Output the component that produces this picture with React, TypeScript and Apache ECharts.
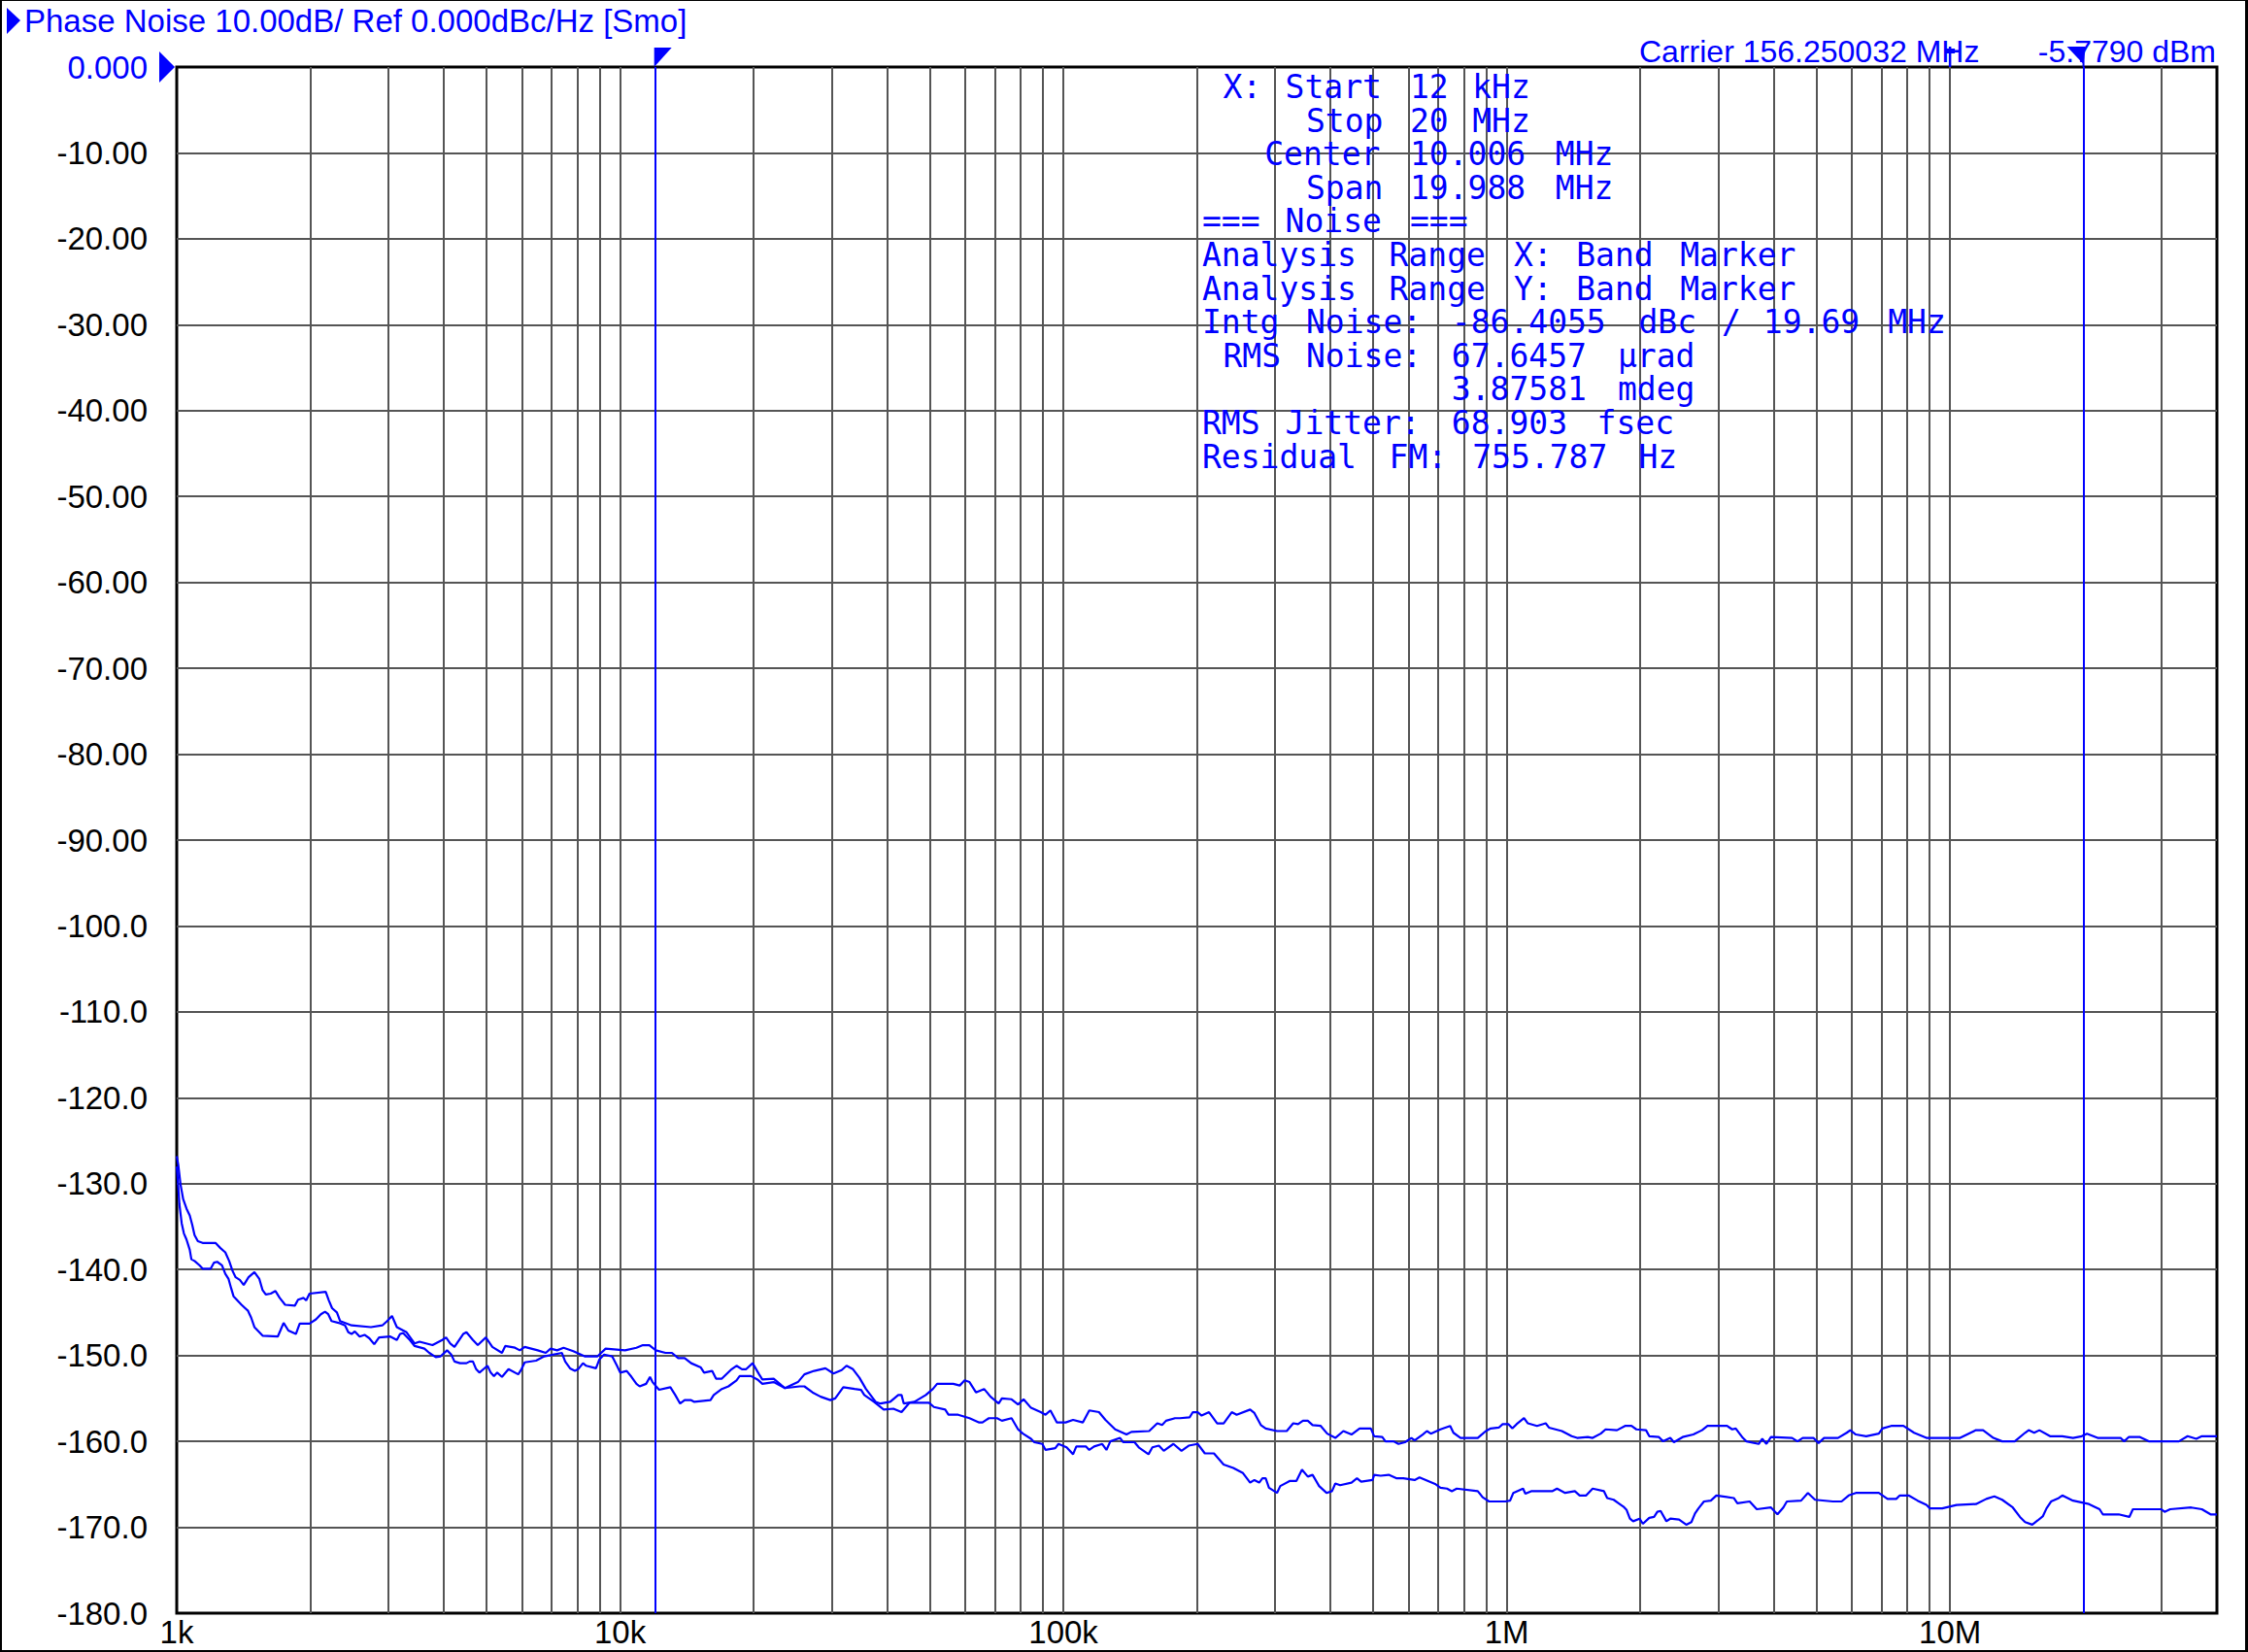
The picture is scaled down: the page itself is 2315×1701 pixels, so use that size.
import React, { useEffect, useRef } from "react";
import * as echarts from "echarts";

// ---------- text content ----------
const TITLE = "Phase Noise 10.00dB/ Ref 0.000dBc/Hz [Smo]";
const CARRIER = "Carrier 156.250032 MHz";
const CARRIER_POWER = "-5.7790 dBm";

// monospaced analysis block, leading spaces give the column layout
const INFO_LINES: string[] = [
  " X: Start 12 kHz",
  "     Stop 20 MHz",
  "   Center 10.006 MHz",
  "     Span 19.988 MHz",
  "=== Noise ===",
  "Analysis Range X: Band Marker",
  "Analysis Range Y: Band Marker",
  "Intg Noise: -86.4055 dBc / 19.69 MHz",
  " RMS Noise: 67.6457 \u00b5rad",
  "            3.87581 mdeg",
  "RMS Jitter: 68.903 fsec",
  "Residual FM: 755.787 Hz",
];

// ---------- axes ----------
const X_MIN = 1000;
const X_MAX = 40000000;
const Y_MIN = -180;
const Y_MAX = 0;
const Y_STEP = 10;
const X_TICK_LABELS: Record<number, string> = { 3: "1k", 4: "10k", 5: "100k", 6: "1M", 7: "10M" };
const DECADES = [1000, 10000, 100000, 1000000, 10000000];
const MULTIPLIERS = [1, 2, 3, 4, 5, 6, 7, 8, 9];
const MARKER_FREQS = [12000, 20000000]; // band markers
const SMALL_MARKER_FREQ = 10000000;

// ---------- traces: [frequency Hz, dBc/Hz] ----------
const upperTrace: [number, number][] = [
  [1000, -126.8], [1008, -127.8], [1020, -130.1], [1034, -131.8], [1052, -132.9], [1070, -133.7], [1084, -134.8], [1097, -136.0],
  [1116, -136.7], [1144, -136.9], [1223, -136.9], [1255, -137.5], [1287, -138.0], [1313, -139.0], [1335, -140.1], [1358, -140.9],
  [1388, -141.2], [1416, -141.8], [1452, -140.9], [1497, -140.3], [1536, -141.1], [1562, -142.4], [1588, -142.9], [1629, -142.8],
  [1670, -142.5], [1707, -143.3], [1756, -144.1], [1847, -144.2], [1878, -143.5], [1933, -143.3], [1959, -143.6], [1993, -142.8],
  [2168, -142.6], [2204, -143.6], [2241, -144.5], [2298, -145.0], [2337, -146.0], [2480, -146.5], [2742, -146.7], [2909, -146.5],
  [2983, -146.0], [3059, -145.4], [3137, -146.7], [3299, -147.3], [3441, -148.6], [3529, -148.4], [3775, -148.8], [3971, -148.2],
  [4051, -147.9], [4140, -148.6], [4232, -149.0], [4428, -147.5], [4503, -147.3], [4657, -148.2], [4776, -148.8], [4981, -147.9],
  [5151, -149.0], [5416, -149.7], [5508, -148.9], [5795, -149.1], [5943, -149.4], [6095, -149.0], [6520, -149.4], [6799, -149.7],
  [6973, -149.2], [7211, -149.4], [7458, -149.1], [7844, -149.5], [8318, -150.1], [8897, -150.1], [9279, -149.2], [10264, -149.4],
  [10887, -149.1], [11258, -148.8], [11643, -148.8], [12041, -149.4], [12662, -149.7], [13094, -149.7], [13523, -150.3],
  [13986, -150.3], [14465, -150.9], [15213, -151.4], [15471, -152.0], [16131, -151.8], [16461, -152.7], [16966, -152.7],
  [17852, -151.6], [18307, -151.2], [18835, -151.6], [19251, -151.6], [19910, -150.9], [20591, -152.2], [20940, -152.8],
  [22210, -152.7], [23162, -153.5], [23555, -153.8], [25190, -153.1], [26050, -152.2], [27394, -151.8], [29059, -151.5],
  [30302, -152.1], [31608, -151.7], [32418, -151.2], [33527, -151.6], [34674, -152.6], [35860, -153.9], [37712, -155.4],
  [38674, -155.6], [40676, -155.4], [42424, -154.6], [43144, -154.6], [43652, -155.6], [46140, -155.4], [48941, -154.6],
  [50780, -153.9], [51900, -153.3], [56450, -153.3], [58380, -153.5], [59880, -152.9], [61410, -153.1], [63510, -154.3],
  [66240, -153.9], [68510, -154.8], [71450, -155.6], [72660, -155.0], [76410, -155.1], [79030, -155.7], [81320, -155.1],
  [84530, -156.1], [88900, -156.6], [91160, -156.9], [93490, -156.4], [96690, -157.8], [101180, -157.8], [105170, -157.5],
  [110620, -157.8], [114400, -156.4], [120310, -156.6], [124420, -157.5], [130860, -158.6], [138800, -159.2], [142330, -158.9],
  [156150, -158.8], [162860, -157.9], [167010, -158.1], [170430, -157.6], [178640, -157.3], [183190, -157.3], [192640, -157.2],
  [195900, -156.6], [200900, -156.6], [205000, -157.0], [213100, -156.6], [222300, -157.9], [229900, -157.9], [239800, -156.6],
  [245900, -156.9], [263800, -156.3], [269700, -156.7], [278900, -158.1], [286000, -158.5], [303300, -158.8], [319000, -158.8],
  [330000, -157.9], [338400, -158.0], [347000, -157.6], [355900, -157.6], [364900, -158.1], [380600, -158.2], [393600, -159.1],
  [410600, -159.6], [428100, -158.8], [446600, -159.2], [465700, -158.5], [493900, -158.5], [502300, -159.4], [524000, -159.5],
  [532800, -160.0], [555700, -160.0], [570000, -160.3], [589500, -160.1], [609600, -159.6], [619900, -159.9], [646500, -159.2],
  [660700, -158.8], [674300, -159.1], [708900, -158.6], [745600, -158.2], [758300, -159.0], [787000, -159.6], [860500, -159.6],
  [897400, -158.8], [920300, -158.5], [959700, -158.4], [979300, -158.0], [1009300, -158.0], [1029900, -158.5], [1052600, -158.0],
  [1094200, -157.3], [1116400, -157.9], [1170300, -158.2], [1224600, -157.9], [1245400, -158.4], [1332000, -158.8],
  [1401000, -159.4], [1441700, -159.6], [1523900, -159.5], [1562800, -159.6], [1629800, -159.1], [1671500, -158.6],
  [1773000, -158.7], [1849000, -158.2], [1912000, -158.2], [1961000, -158.6], [2062000, -158.7], [2097000, -159.4],
  [2205000, -159.5], [2254000, -160.0], [2339000, -159.6], [2383000, -160.1], [2494000, -159.5], [2636000, -159.2],
  [2758000, -158.7], [2838000, -158.2], [3141000, -158.2], [3226000, -158.6], [3286000, -158.5], [3410000, -159.6],
  [3473000, -160.0], [3702000, -160.3], [3771000, -159.7], [3854000, -160.3], [3946000, -159.5], [4402000, -159.6],
  [4529000, -160.0], [4653000, -159.6], [4918000, -159.6], [5052000, -160.2], [5198000, -159.6], [5588000, -159.6],
  [5848000, -159.0], [5958000, -158.7], [6131000, -159.2], [6470000, -159.4], [6908000, -159.1], [7037000, -158.5],
  [7365000, -158.2], [7851000, -158.2], [8297000, -159.0], [8847000, -159.6], [9524000, -159.6], [10535000, -159.6],
  [11442000, -158.7], [11873000, -158.7], [12527000, -159.6], [13111000, -160.0], [13996000, -160.0], [14770000, -159.0],
  [15046000, -158.7], [15481000, -159.0], [15904000, -158.7], [16812000, -159.4], [17918000, -159.4], [18944000, -159.6],
  [19826000, -159.4], [20367000, -159.1], [21526000, -159.6], [24248000, -159.6], [24704000, -160.0], [25293000, -159.5],
  [26826000, -159.5], [28070000, -160.0], [32830000, -160.0], [34350000, -159.4], [35940000, -159.7], [36990000, -159.4],
  [40000000, -159.4],
];

const lowerTrace: [number, number][] = [
  [1000, -128.0], [1005, -129.4], [1014, -132.4], [1026, -134.6], [1038, -135.8], [1052, -136.5], [1070, -137.7], [1079, -138.8],
  [1097, -139.0], [1125, -139.5], [1144, -139.9], [1193, -139.9], [1213, -139.2], [1234, -139.1], [1265, -139.5], [1287, -140.5],
  [1309, -141.1], [1327, -142.2], [1343, -143.1], [1400, -144.1], [1448, -144.8], [1472, -145.6], [1497, -146.7], [1562, -147.7],
  [1690, -147.8], [1713, -147.1], [1742, -146.2], [1786, -147.1], [1857, -147.5], [1894, -146.3], [1993, -146.3], [2061, -145.8],
  [2114, -145.2], [2160, -144.9], [2197, -145.2], [2234, -146.0], [2318, -146.2], [2397, -146.5], [2438, -147.3], [2480, -147.5],
  [2522, -147.2], [2586, -147.8], [2652, -147.6], [2720, -148.0], [2789, -148.7], [2860, -147.9], [3033, -147.8], [3137, -148.2],
  [3190, -147.5], [3244, -147.4], [3356, -148.2], [3441, -148.9], [3620, -149.2], [3712, -149.7], [3839, -150.2], [3937, -150.1],
  [4072, -149.4], [4162, -149.9], [4232, -150.7], [4355, -150.9], [4503, -150.9], [4579, -150.7], [4657, -150.7], [4736, -151.6],
  [4816, -152.0], [5023, -151.2], [5108, -152.0], [5195, -152.4], [5283, -152.0], [5416, -152.5], [5603, -151.6], [5893, -152.2],
  [5993, -151.6], [6095, -150.8], [6465, -150.6], [6744, -150.1], [7395, -149.7], [7520, -150.7], [7712, -151.5], [7909, -151.8],
  [8043, -151.6], [8249, -150.9], [8389, -151.2], [8825, -151.5], [8975, -150.5], [9204, -149.9], [9597, -150.1], [9842, -151.2],
  [10009, -152.0], [10351, -151.8], [10615, -152.5], [10887, -153.3], [11072, -153.6], [11450, -153.3], [11682, -152.5],
  [11838, -153.1], [12245, -154.0], [12987, -153.7], [13320, -154.6], [13660, -155.6], [13986, -155.2], [14465, -155.2],
  [14710, -155.4], [15997, -155.2], [16268, -154.6], [16966, -153.9], [17556, -153.6], [18307, -152.9], [18613, -152.4],
  [19744, -152.4], [20418, -152.8], [20940, -153.3], [22210, -153.1], [23555, -153.8], [25400, -153.6], [26050, -153.6],
  [27170, -154.3], [28340, -154.8], [29810, -155.2], [30570, -155.0], [31880, -153.7], [33810, -153.9], [34970, -154.0],
  [35560, -154.6], [37390, -155.4], [39330, -156.3], [41360, -156.2], [43144, -156.6], [44990, -155.5], [49770, -155.5],
  [51040, -156.0], [54130, -156.3], [55050, -156.9], [57900, -156.9], [61410, -157.3], [64590, -157.8], [65690, -157.8],
  [67920, -157.3], [70850, -157.3], [72660, -157.6], [76410, -157.3], [79030, -158.6], [81040, -159.1], [84530, -159.7],
  [85970, -160.1], [89650, -160.3], [91160, -161.0], [95880, -160.8], [97500, -160.3], [101690, -160.7], [105170, -161.5],
  [106950, -160.6], [112500, -160.6], [114400, -161.0], [117320, -160.6], [122370, -160.3], [125070, -161.0], [127630, -160.0],
  [134220, -159.6], [136500, -160.1], [144730, -160.1], [147930, -160.7], [155600, -161.5], [158770, -160.7], [164200, -160.5],
  [168400, -161.1], [177100, -160.3], [184700, -161.1], [191700, -160.5], [200900, -160.3], [208500, -161.4], [218600, -161.4],
  [229900, -162.7], [241700, -163.1], [254200, -163.7], [263800, -164.8], [269700, -164.5], [276500, -164.8], [281200, -164.3],
  [286000, -164.3], [290900, -165.4], [303300, -166.0], [308500, -165.2], [324500, -164.6], [335600, -164.6], [345300, -163.3],
  [355900, -164.1], [364900, -163.9], [377400, -165.2], [392300, -166.0], [403600, -165.8], [410600, -164.9], [421000, -165.1],
  [446600, -164.8], [459500, -164.3], [469600, -164.7], [498200, -164.5], [502300, -163.9], [519600, -164.0], [541900, -163.9],
  [565000, -164.3], [584500, -164.3], [619900, -164.5], [635800, -164.2], [663100, -164.6], [691600, -165.0], [708900, -165.4],
  [733400, -165.5], [752100, -165.8], [771300, -165.5], [860500, -165.8], [882400, -166.5], [912500, -167.0], [992500, -167.0],
  [1017900, -166.9], [1035100, -166.0], [1088800, -165.5], [1101700, -166.1], [1135400, -165.8], [1266400, -165.8],
  [1298700, -165.5], [1354600, -166.0], [1424500, -165.8], [1460900, -166.3], [1510900, -166.3], [1562800, -165.5],
  [1657400, -165.8], [1685500, -166.6], [1743100, -166.8], [1787800, -167.2], [1833500, -167.6], [1864600, -168.0],
  [1896200, -169.0], [1928400, -169.3], [1994700, -169.0], [2028500, -169.6], [2097000, -168.9], [2150000, -168.8],
  [2187000, -168.2], [2224000, -168.1], [2292000, -169.3], [2339000, -169.0], [2448000, -169.1], [2541000, -169.7],
  [2610000, -169.4], [2659000, -168.4], [2708000, -167.8], [2786000, -167.0], [2887000, -166.9], [2971000, -166.3],
  [3253000, -166.6], [3314000, -167.2], [3532000, -167.0], [3665000, -167.9], [3946000, -167.7], [4081000, -168.5],
  [4207000, -167.7], [4285000, -167.0], [4614000, -166.9], [4780000, -166.0], [4961000, -166.8], [5442000, -167.0],
  [5693000, -167.0], [5908000, -166.3], [6131000, -166.0], [6908000, -166.0], [7228000, -166.7], [7563000, -166.7],
  [7705000, -166.3], [8063000, -166.3], [8452000, -166.9], [8847000, -167.4], [9010000, -167.8], [9605000, -167.8],
  [10342000, -167.4], [11442000, -167.3], [12074000, -166.7], [12589000, -166.4], [13111000, -166.8], [13855000, -167.7],
  [14379000, -168.8], [14770000, -169.4], [15330000, -169.7], [15775000, -169.2], [16205000, -168.7], [16507000, -167.8],
  [16899000, -167.0], [17596000, -166.6], [17918000, -166.3], [18944000, -166.9], [20574000, -167.3], [21745000, -167.9],
  [22114000, -168.5], [24010000, -168.5], [25380000, -168.8], [25850000, -167.9], [29920000, -167.9], [30480000, -168.2],
  [31370000, -167.9], [34990000, -167.7], [36990000, -167.9], [38700000, -168.5], [40000000, -168.5],
];

// ---------- styles ----------
const BLUE = "#0000ff";
const GRID_GRAY = "#555555";
const SANS = "'Liberation Sans', Arial, sans-serif";
const MONO = "'DejaVu Sans Mono', 'Liberation Mono', monospace";
const MONO_SIZE = 33;
const MONO_COL = 21.4;
const MONO_X0 = 1238;
const MONO_Y0 = 89.5;
const MONO_ROW = 34.6;

const gridFreqs: number[] = [];
DECADES.forEach((d) =>
  MULTIPLIERS.forEach((m) => {
    const f = d * m;
    if (f > X_MIN && f < X_MAX) gridFreqs.push(f);
  })
);
gridFreqs.push(20000000, 30000000);

function xLabel(v: number): string {
  const l = Math.log10(v);
  const r = Math.round(l);
  if (Math.abs(l - r) < 1e-6 && X_TICK_LABELS[r]) return X_TICK_LABELS[r];
  return "";
}

function yLabel(v: number): string {
  if (Math.abs(v) < 1e-9) return "{z|0.000}";
  return v > -100 ? v.toFixed(2) : v.toFixed(1);
}

// split a fixed-width line into words placed at their character column
function lineTokens(line: string): { col: number; text: string }[] {
  const out: { col: number; text: string }[] = [];
  let i = 0;
  while (i < line.length) {
    if (line[i] === " ") {
      i++;
      continue;
    }
    let j = i;
    while (j < line.length && line[j] !== " ") j++;
    out.push({ col: i, text: line.slice(i, j) });
    i = j;
  }
  return out;
}

export default function App() {
  const ref = useRef<HTMLDivElement>(null);

  useEffect(() => {
    if (!ref.current) return;
    const chart = echarts.init(ref.current, null, { renderer: "svg" });
    const option: any = {
      animation: false,
      backgroundColor: "#ffffff",
      grid: {
        left: 182,
        top: 69,
        width: 2101,
        height: 1592,
        show: true,
        borderColor: "#000000",
        borderWidth: 3,
        backgroundColor: "#ffffff",
      },
      xAxis: {
        type: "log",
        logBase: 10,
        min: X_MIN,
        max: X_MAX,
        axisLine: { show: false },
        axisTick: { show: false },
        splitLine: { show: false },
        axisLabel: {
          formatter: xLabel,
          fontFamily: SANS,
          fontSize: 33,
          color: "#000000",
          margin: 3,
          showMinLabel: true,
        },
      },
      yAxis: {
        type: "value",
        min: Y_MIN,
        max: Y_MAX,
        interval: Y_STEP,
        axisLine: { show: false },
        axisTick: { show: false },
        splitLine: {
          show: true,
          showMinLine: false,
          showMaxLine: false,
          lineStyle: { color: GRID_GRAY, width: 2 },
        },
        axisLabel: {
          formatter: yLabel,
          fontFamily: SANS,
          fontSize: 33,
          color: "#000000",
          margin: 30,
          rich: { z: { color: BLUE, fontFamily: SANS, fontSize: 33 } },
        },
      },
      series: [
        {
          name: "Trace A",
          type: "line",
          data: upperTrace,
          showSymbol: false,
          symbol: "none",
          z: 10,
          lineStyle: { color: BLUE, width: 2.2 },
          silent: true,
          markLine: {
            z: 3,
            silent: true,
            symbol: ["none", "none"],
            label: { show: false },
            lineStyle: { color: GRID_GRAY, width: 2, type: "solid" },
            data: gridFreqs.map((f) => ({ xAxis: f })),
          },
        },
        {
          name: "Trace B",
          type: "line",
          data: lowerTrace,
          showSymbol: false,
          symbol: "none",
          z: 10,
          lineStyle: { color: BLUE, width: 2.2 },
          silent: true,
          markLine: {
            z: 4,
            silent: true,
            symbol: ["none", "none"],
            label: { show: false },
            lineStyle: { color: BLUE, width: 2, type: "solid" },
            data: MARKER_FREQS.map((f) => ({ xAxis: f })),
          },
        },
      ],
    };
    chart.setOption(option);

    const x12 = chart.convertToPixel({ xAxisIndex: 0 }, MARKER_FREQS[0]) as number;
    const x20 = chart.convertToPixel({ xAxisIndex: 0 }, MARKER_FREQS[1]) as number;
    const x10 = chart.convertToPixel({ xAxisIndex: 0 }, SMALL_MARKER_FREQ) as number;

    const graphic: any[] = [
      // outer frame of the screen
      { type: "rect", shape: { x: 0, y: 0, width: 2315, height: 1 }, style: { fill: "#000" }, z: 100 },
      { type: "rect", shape: { x: 0, y: 0, width: 2, height: 1701 }, style: { fill: "#000" }, z: 100 },
      { type: "rect", shape: { x: 2312, y: 0, width: 3, height: 1701 }, style: { fill: "#000" }, z: 100 },
      { type: "rect", shape: { x: 0, y: 1699, width: 2315, height: 2 }, style: { fill: "#000" }, z: 100 },
      // header
      { type: "polygon", shape: { points: [[7, 8], [7, 35], [21, 21]] }, style: { fill: BLUE }, z: 100 },
      {
        type: "text", x: 25, y: 21.5, z: 100,
        style: { text: TITLE, fill: BLUE, fontFamily: SANS, fontSize: 33, verticalAlign: "middle", align: "left" },
      },
      {
        type: "text", x: 1688, y: 53, z: 100,
        style: { text: CARRIER, fill: BLUE, fontFamily: SANS, fontSize: 32, verticalAlign: "middle", align: "left" },
      },
      {
        type: "text", x: 2282, y: 53, z: 100,
        style: { text: CARRIER_POWER, fill: BLUE, fontFamily: SANS, fontSize: 32, verticalAlign: "middle", align: "right" },
      },
      // reference level arrow
      { type: "polygon", shape: { points: [[164, 53], [164, 85], [180, 69]] }, style: { fill: BLUE }, z: 100 },
      // band marker flags
      { type: "polygon", shape: { points: [[x12 - 1, 49], [x12 + 17, 49], [x12 - 1, 69]] }, style: { fill: BLUE }, z: 100 },
      { type: "line", shape: { x1: x20, y1: 48, x2: x20, y2: 69 }, style: { stroke: BLUE, lineWidth: 2 }, z: 100 },
      { type: "polygon", shape: { points: [[x20 - 17, 48], [x20 + 2, 48], [x20, 66]] }, style: { fill: BLUE }, z: 100 },
      { type: "line", shape: { x1: x10, y1: 48, x2: x10, y2: 69 }, style: { stroke: BLUE, lineWidth: 2.5 }, z: 100 },
      { type: "rect", shape: { x: x10 - 5, y: 50, width: 10, height: 5 }, style: { fill: BLUE }, z: 100 },
    ];

    INFO_LINES.forEach((line, row) => {
      lineTokens(line).forEach(({ col, text }) => {
        graphic.push({
          type: "text",
          x: MONO_X0 + col * MONO_COL,
          y: MONO_Y0 + row * MONO_ROW,
          z: 100,
          style: { text, fill: BLUE, fontFamily: MONO, fontSize: MONO_SIZE, verticalAlign: "middle", align: "left" },
        });
      });
    });

    chart.setOption({ graphic });

    return () => chart.dispose();
  }, []);

  return (
    <div
      ref={ref}
      style={{ position: "absolute", left: 0, top: 0, width: 2315, height: 1701, background: "#fff" }}
    />
  );
}
